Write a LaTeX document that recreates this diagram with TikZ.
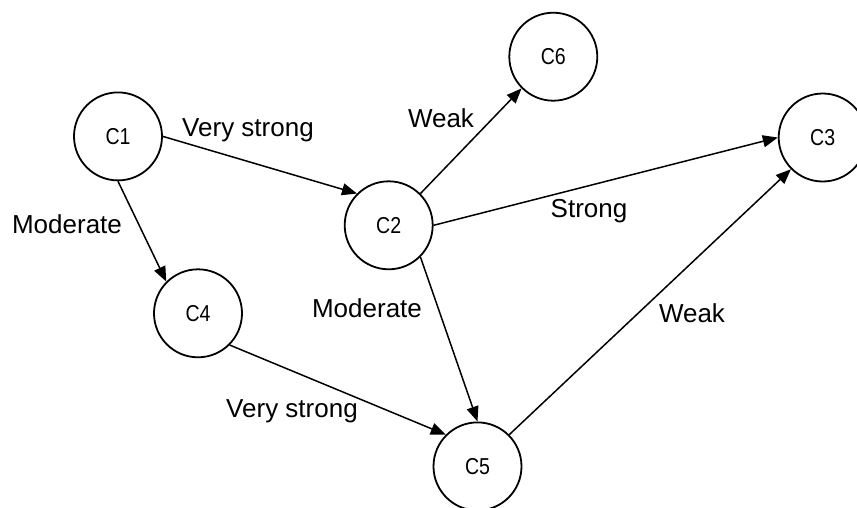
\documentclass[tikz,border=0pt]{standalone}
\usepackage{fontspec}
\setmainfont{Liberation Sans}
\newfontfamily\cfont[FakeStretch=0.85]{Liberation Sans}
\usetikzlibrary{arrows.meta}
\tikzset{
  concept/.style={circle,draw,line width=1.8pt,minimum size=88pt,inner sep=0pt,
    font=\cfont\fontsize{23}{26}\selectfont},
  link/.style={line width=1.5pt,-{Triangle[length=15pt,width=12pt]}},
  lbl/.style={anchor=base,inner sep=0pt,font=\fontsize{26}{30}\selectfont}
}
\begin{document}
\begin{tikzpicture}[x=1pt,y=-1pt]
\useasboundingbox (0,0) rectangle (857,507);
\clip (0,0) rectangle (857,507);
\node[concept] (C1) at (118,136.4) {C1};
\node[concept] (C2) at (388.7,225.3) {C2};
\node[concept] (C6) at (553.3,56.7) {C6};
\node[concept] (C3) at (822.7,137.5) {C3};
\node[concept] (C4) at (198,313.3) {C4};
\node[concept] (C5) at (477.5,466.4) {C5};

\draw[link] (C1.east) -- (C2.135);
\draw[link] (C1.south) -- (C4.135);
\draw[link] (C2.45) -- (C6.225);
\draw[link] (C2.east) -- (C3.west);
\draw[link] (C2.-45) -- (C5.north);
\draw[link] (C4.-45) -- (C5.135);
\draw[link] (C5.45) -- (C3.225);

\node[lbl] (l12) at (248,136) {Very strong};
\node[lbl] (l14) at (67,233) {Moderate};
\node[lbl] (l26) at (441,127) {Weak};
\node[lbl] (l23) at (589,217) {Strong};
\node[lbl] (l25) at (367,317) {Moderate};
\node[lbl] (l45) at (292,417) {Very strong};
\node[lbl] (l53) at (692,322) {Weak};
\end{tikzpicture}
\end{document}
